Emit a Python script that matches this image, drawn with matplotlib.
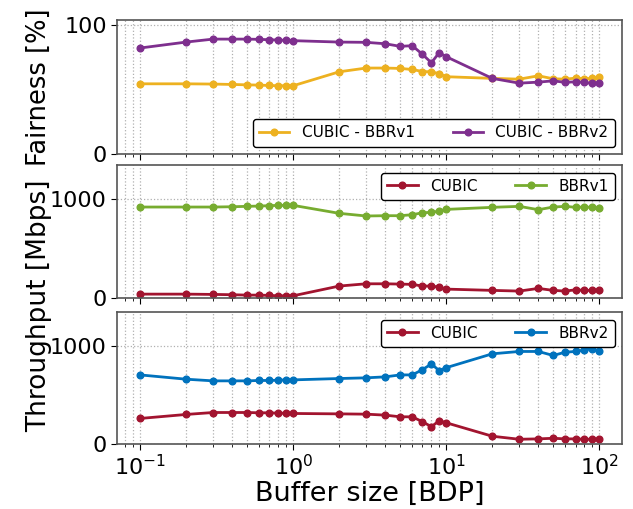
import matplotlib
matplotlib.use("Agg")
import matplotlib.pyplot as plt

# Buffer sizes in multiples of BDP
buffer_bdp = [0.1, 0.2, 0.3, 0.4, 0.5, 0.6, 0.7, 0.8, 0.9, 1,
              2, 3, 4, 5, 6, 7, 8, 9, 10,
              20, 30, 40, 50, 60, 70, 80, 90, 100]

# Jain's fairness [%]
fair_cubic_bbrv1 = [54.5, 54.5, 54.3, 54.0, 53.7, 53.5, 53.2, 53.0, 53.0, 53.0,
                    63.8, 66.7, 66.7, 66.4, 65.6, 64.0, 63.8, 62.3, 60.0,
                    58.7, 58.1, 60.7, 58.4, 58.1, 58.9, 58.4, 58.7, 59.4]
fair_cubic_bbrv2 = [82.2, 86.8, 89.1, 89.1, 89.1, 88.9, 88.6, 88.4, 88.1, 87.9,
                    86.8, 86.6, 85.5, 83.5, 84.0, 77.3, 70.8, 78.6, 75.5,
                    58.7, 55.0, 55.8, 56.8, 55.6, 56.1, 55.6, 54.8, 55.3]

# Throughput [Mbps], CUBIC vs BBRv1
thr1_cubic = [37, 37, 34, 31, 27, 27, 24, 20, 20, 20,
              119, 142, 142, 139, 136, 119, 119, 108, 88,
              75, 68, 95, 75, 68, 81, 75, 75, 81]
thr1_bbrv1 = [922, 922, 922, 925, 929, 932, 936, 939, 939, 939,
              858, 831, 834, 834, 844, 864, 868, 881, 898,
              919, 929, 895, 922, 929, 919, 922, 919, 908]

# Throughput [Mbps], CUBIC vs BBRv2
thr2_cubic = [260, 301, 321, 321, 321, 318, 318, 314, 314, 311,
              307, 304, 294, 277, 277, 226, 176, 236, 216,
              78, 47, 51, 57, 51, 51, 47, 47, 47]
thr2_bbrv2 = [706, 662, 645, 645, 645, 649, 649, 652, 655, 655,
              669, 676, 686, 706, 706, 760, 818, 750, 780,
              922, 946, 946, 905, 939, 946, 963, 973, 946]

C_ORANGE = "#EDB120"
C_PURPLE = "#7E2F8E"
C_RED = "#A2142F"
C_GREEN = "#77AC30"
C_BLUE = "#0072BD"

fig = plt.figure(figsize=(6.33, 5.09), dpi=100)
left, width = 0.185, 0.798
ax1 = fig.add_axes([left, 0.697, width, 0.264])
ax2 = fig.add_axes([left, 0.415, width, 0.261], sharex=ax1)
ax3 = fig.add_axes([left, 0.128, width, 0.259], sharex=ax1)

line_kw = dict(marker="o", markersize=4.8, linewidth=2)
leg_kw = dict(ncol=2, fontsize=11, edgecolor="black", fancybox=True,
              framealpha=1, columnspacing=2.5)

ax1.plot(buffer_bdp, fair_cubic_bbrv1, color=C_ORANGE, label="CUBIC - BBRv1", **line_kw)
ax1.plot(buffer_bdp, fair_cubic_bbrv2, color=C_PURPLE, label="CUBIC - BBRv2", **line_kw)
ax1.set_ylim(0, 104)
ax1.set_yticks([0, 100])
ax1.legend(loc="lower right", **leg_kw)

ax2.plot(buffer_bdp, thr1_cubic, color=C_RED, label="CUBIC", **line_kw)
ax2.plot(buffer_bdp, thr1_bbrv1, color=C_GREEN, label="BBRv1", **line_kw)
ax2.set_ylim(0, 1350)
ax2.set_yticks([0, 1000])
ax2.legend(loc="upper right", **leg_kw)

ax3.plot(buffer_bdp, thr2_cubic, color=C_RED, label="CUBIC", **line_kw)
ax3.plot(buffer_bdp, thr2_bbrv2, color=C_BLUE, label="BBRv2", **line_kw)
ax3.set_ylim(0, 1350)
ax3.set_yticks([0, 1000])
ax3.legend(loc="upper right", **leg_kw)

ax1.set_xscale("log")
ax1.set_xlim(0.1 / 10 ** 0.15, 100 * 10 ** 0.15)

for ax in (ax1, ax2, ax3):
    ax.grid(True, which="major", axis="both", linestyle=":", color="#b0b0b0", linewidth=0.9)
    ax.grid(True, which="minor", axis="x", linestyle=":", color="#b0b0b0", linewidth=0.9)
    ax.tick_params(axis="both", which="major", labelsize=16, direction="out", length=4)
    ax.tick_params(axis="x", which="minor", direction="out", length=2)
    for sp in ax.spines.values():
        sp.set_color("#555555")
        sp.set_linewidth(1.2)

ax1.tick_params(axis="x", labelbottom=False)
ax2.tick_params(axis="x", labelbottom=False)

ax3.set_xlabel("Buffer size [BDP]", fontsize=19.5, labelpad=1)
fig.text(0.062, 0.829, "Fairness [%]", rotation=90, fontsize=18.5, ha="center", va="center")
fig.text(0.062, 0.400, "Throughput [Mbps]", rotation=90, fontsize=19, ha="center", va="center")

fig.savefig("out.png", dpi=100)
